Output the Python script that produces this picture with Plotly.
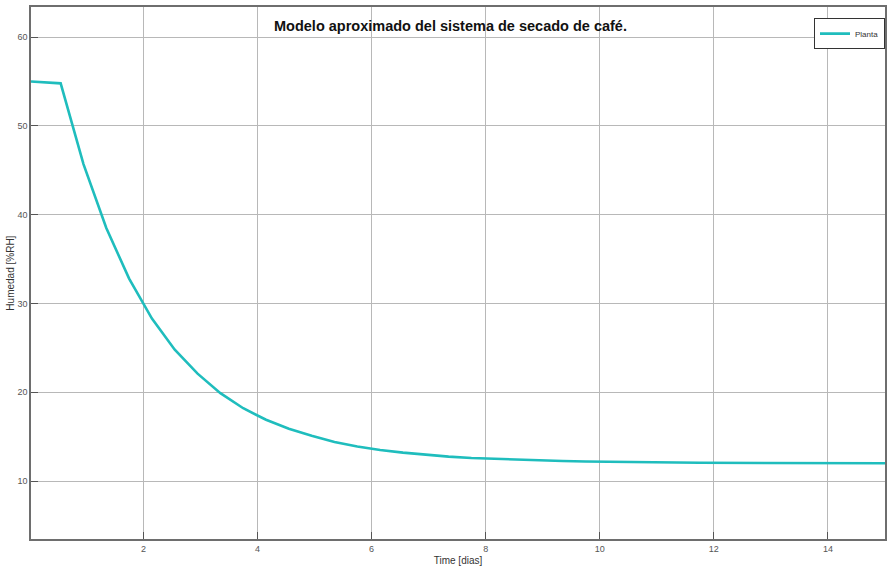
import plotly.graph_objects as go

# Simulated moisture of the coffee drying model (days vs %RH)
time_days = [0.03, 0.55, 0.95, 1.35, 1.75, 2.15, 2.55, 2.95, 3.35, 3.75,
             4.15, 4.55, 4.95, 5.35, 5.75, 6.15, 6.55, 6.95, 7.35, 7.75,
             8.15, 8.55, 8.95, 9.35, 9.75, 10.15, 10.55, 10.95, 11.35, 11.75,
             12.15, 12.55, 12.95, 13.35, 13.75, 14.15, 14.55, 15.0]
humidity = [55.0, 54.8, 45.7, 38.5, 32.8, 28.3, 24.8, 22.1, 19.9, 18.2,
            16.9, 15.9, 15.1, 14.4, 13.9, 13.5, 13.2, 12.95, 12.75, 12.6,
            12.5, 12.4, 12.3, 12.25, 12.2, 12.15, 12.12, 12.1, 12.08, 12.06,
            12.05, 12.04, 12.03, 12.02, 12.02, 12.01, 12.01, 12.0]

x_ticks = [2, 4, 6, 8, 10, 12, 14]
y_ticks = [10, 20, 30, 40, 50, 60]

fig = go.Figure()
fig.add_trace(go.Scatter(
    x=time_days, y=humidity, mode="lines", name="Planta",
    line=dict(color="#1fbdbd", width=2.6),
))

axis_common = dict(
    showgrid=True, gridcolor="#b8b8b8", gridwidth=1,
    showline=True, linecolor="#6e6e6e", linewidth=1.5, mirror=True,
    ticks="inside", ticklen=7, tickcolor="#555555", tickwidth=1.2,
    tickfont=dict(family="Liberation Sans, Arial", size=9, color="#555555"),
    zeroline=False,
)

fig.update_layout(
    width=887, height=567,
    margin=dict(l=31, r=0, t=7, b=28),
    paper_bgcolor="white", plot_bgcolor="white",
    font=dict(family="Liberation Sans, Arial", color="#333333"),
    xaxis=dict(range=[0.03, 15.0], tickvals=x_ticks,
               title=dict(text="Time [dias]", font=dict(size=10, color="#333333"), standoff=4),
               **axis_common),
    yaxis=dict(range=[3.47, 63.4], tickvals=y_ticks, **axis_common),
    showlegend=True,
    legend=dict(x=1.0, y=0.979, xanchor="right", yanchor="top",
                bgcolor="white", bordercolor="#333333", borderwidth=1,
                font=dict(size=8, color="#333333"), itemwidth=30,
                tracegroupgap=0),
    annotations=[
        dict(text="<b>Modelo aproximado del sistema de secado de café.</b>",
             x=0.4907, y=0.965, xref="paper", yref="paper",
             xanchor="center", yanchor="middle", showarrow=False,
             font=dict(family="Liberation Sans, Arial", size=14.5, color="#111111")),
        dict(text="Humedad [%RH]", textangle=-90,
             x=-0.025, y=0.5, xref="paper", yref="paper",
             xanchor="center", yanchor="middle", showarrow=False,
             font=dict(family="Liberation Sans, Arial", size=10, color="#333333")),
    ],
)

fig.write_html("out.html")
